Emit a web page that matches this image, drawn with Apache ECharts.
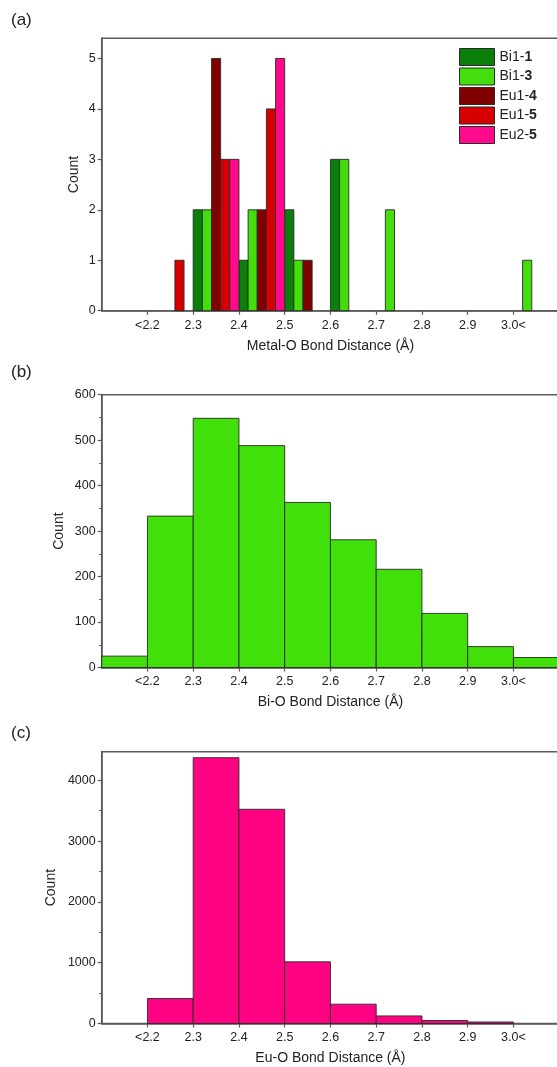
<!DOCTYPE html>
<html>
<head>
<meta charset="utf-8">
<script src="https://cdn.jsdelivr.net/npm/echarts@6/dist/echarts.min.js"></script>
<style>
html,body{margin:0;padding:0;background:#fff;}
#chart{width:557px;height:1067px;}
</style>
</head>
<body>
<div id="chart"></div>
<script>
// ---- data ----
const binStarts = [2.1, 2.2, 2.3, 2.4, 2.5, 2.6, 2.7, 2.8, 2.9, 3.0];
const binWidth = 0.1;
const tickValues = [2.2, 2.3, 2.4, 2.5, 2.6, 2.7, 2.8, 2.9, 3.0];
const tickLabels = ['<2.2', '2.3', '2.4', '2.5', '2.6', '2.7', '2.8', '2.9', '3.0<'];

// panel (a): counts per bin for each site
const seriesNamesA = ['Bi1-1', 'Bi1-3', 'Eu1-4', 'Eu1-5', 'Eu2-5'];
const bi1_1 = [0, 0, 2, 1, 2, 3, 0, 0, 0, 0];
const bi1_3 = [0, 0, 2, 2, 1, 3, 2, 0, 0, 1];
const eu1_4 = [0, 0, 5, 2, 1, 0, 0, 0, 0, 0];
const eu1_5 = [0, 1, 3, 4, 0, 0, 0, 0, 0, 0];
const eu2_5 = [0, 0, 3, 5, 0, 0, 0, 0, 0, 0];
const yTicksA = [0, 1, 2, 3, 4, 5];

// panel (b): Bi-O bond distances
const biO = [25, 333, 548, 488, 363, 281, 216, 119, 46, 22];
const yTicksB = [0, 100, 200, 300, 400, 500, 600];
const yMinorB = [50, 150, 250, 350, 450, 550];

// panel (c): Eu-O bond distances
const euO = [0, 411, 4372, 3523, 1014, 318, 125, 49, 25, 0];
const yTicksC = [0, 1000, 2000, 3000, 4000];
const yMinorC = [500, 1500, 2500, 3500];

// ---- styling ----
const FONT = "'Liberation Sans', Arial, sans-serif";
const AXIS = '#5a5a5a';
const TXT = '#222';
const colorsA = ['#0a800a', '#44de0c', '#800000', '#d60000', '#ff0a8a'];

const chart = echarts.init(document.getElementById('chart'), null, {renderer: 'canvas'});

function rectItem(params, api) {
  const x0 = api.value(0), x1 = api.value(1), y = api.value(2);
  if (!y) return null;
  const p0 = api.coord([x0, 0]);
  const p1 = api.coord([x1, y]);
  return {
    type: 'rect',
    shape: {x: p0[0], y: p1[1], width: p1[0] - p0[0], height: p0[1] - p1[1]},
    style: {fill: api.visual('color'), stroke: '#2a2a2a', lineWidth: 0.9}
  };
}

const gridsTop = [38.3, 394.7, 751.7];
const gridsH = [272.4, 272.8, 271.8];
const grid = gridsTop.map((t, i) => ({
  left: 101.7, right: -2.2, top: t, height: gridsH[i],
  show: true, borderColor: AXIS, borderWidth: 1.5, backgroundColor: 'transparent',
  containLabel: false, outerBoundsMode: 'none'
}));

const xTitles = ['Metal-O Bond Distance (Å)', 'Bi-O Bond Distance (Å)', 'Eu-O Bond Distance (Å)'];
const xAxis = xTitles.map((t, i) => ({
  type: 'value', gridIndex: i, min: 2.1, max: 3.1, interval: 0.1,
  name: t, nameLocation: 'middle', nameGap: 28, nameMoveOverlap: false,
  nameTextStyle: {fontFamily: FONT, fontSize: 14, color: TXT},
  axisLine: {show: true, onZero: false, lineStyle: {color: AXIS, width: 1.5}},
  axisTick: {show: true, inside: false, length: 4, customValues: tickValues, lineStyle: {color: AXIS, width: 1.2}},
  axisLabel: {
    show: true, margin: 8, customValues: tickValues,
    fontFamily: FONT, fontSize: 12.5, color: TXT,
    formatter: v => {
      const k = tickValues.findIndex(t => Math.abs(t - v) < 1e-6);
      return k >= 0 ? tickLabels[k] : '';
    }
  },
  splitLine: {show: false}
}));

function yMain(i, max, ticks, gap) {
  return {
    type: 'value', gridIndex: i, min: 0, max: max,
    name: 'Count', nameLocation: 'middle', nameGap: gap, nameMoveOverlap: false,
    nameTextStyle: {fontFamily: FONT, fontSize: 14, color: TXT},
    axisLine: {show: true, lineStyle: {color: AXIS, width: 1.5}},
    axisTick: {show: true, inside: false, length: 4, customValues: ticks, lineStyle: {color: AXIS, width: 1.2}},
    axisLabel: {show: true, margin: 6, customValues: ticks, fontFamily: FONT, fontSize: 12.5, color: TXT,
      formatter: v => String(v)},
    splitLine: {show: false}
  };
}
function yMinor(i, max, ticks) {
  return {
    type: 'value', gridIndex: i, min: 0, max: max, position: 'left',
    axisLine: {show: false},
    axisTick: {show: true, inside: false, length: 2.5, customValues: ticks, lineStyle: {color: AXIS, width: 1}},
    axisLabel: {show: false},
    splitLine: {show: false}
  };
}

const yAxis = [
  yMain(0, 5.4, yTicksA, 21),
  yMain(1, 600, yTicksB, 36),
  yMain(2, 4470, yTicksC, 44),
  yMinor(1, 600, yMinorB),
  yMinor(2, 4470, yMinorC)
];

const subW = binWidth / seriesNamesA.length;
const countsA = [bi1_1, bi1_3, eu1_4, eu1_5, eu2_5];
const series = [];
countsA.forEach((arr, s) => {
  series.push({
    type: 'custom', name: seriesNamesA[s], xAxisIndex: 0, yAxisIndex: 0,
    itemStyle: {color: colorsA[s], borderColor: '#2a2a2a', borderWidth: 1},
    encode: {x: [0, 1], y: 2},
    renderItem: rectItem,
    data: binStarts.map((b, k) => [b + s * subW, b + (s + 1) * subW, arr[k]])
  });
});
series.push({
  type: 'custom', name: 'Bi-O', xAxisIndex: 1, yAxisIndex: 1,
  itemStyle: {color: '#42e00a'}, encode: {x: [0, 1], y: 2}, renderItem: rectItem,
  data: binStarts.map((b, k) => [b, b + binWidth, biO[k]])
});
series.push({
  type: 'custom', name: 'Eu-O', xAxisIndex: 2, yAxisIndex: 2,
  itemStyle: {color: '#ff0383'}, encode: {x: [0, 1], y: 2}, renderItem: rectItem,
  data: binStarts.map((b, k) => [b, b + binWidth, euO[k]])
});

const option = {
  animation: false,
  backgroundColor: '#fff',
  textStyle: {fontFamily: FONT},
  grid, xAxis, yAxis, series,
  legend: {
    show: true, orient: 'vertical', left: 459, top: 48, padding: 0,
    itemWidth: 35, itemHeight: 17, itemGap: 1.5,
    icon: 'rect',
    selectedMode: false,
    data: seriesNamesA.map((n, s) => ({
      name: n, icon: 'rect',
      itemStyle: {color: colorsA[s], borderColor: '#2a2a2a', borderWidth: 1}
    })),
    formatter: n => n.replace(/-(\d+)$/, '-{b|$1}'),
    textStyle: {
      fontFamily: FONT, fontSize: 14, color: TXT,
      rich: {b: {fontFamily: FONT, fontSize: 14, fontWeight: 'bold', color: TXT}}
    }
  },
  graphic: [
    {type: 'text', left: 11, top: 12, style: {text: '(a)', font: '17px ' + FONT, fill: TXT}},
    {type: 'text', left: 11, top: 364, style: {text: '(b)', font: '17px ' + FONT, fill: TXT}},
    {type: 'text', left: 11, top: 725, style: {text: '(c)', font: '17px ' + FONT, fill: TXT}}
  ]
};
chart.setOption(option);
</script>
</body>
</html>
